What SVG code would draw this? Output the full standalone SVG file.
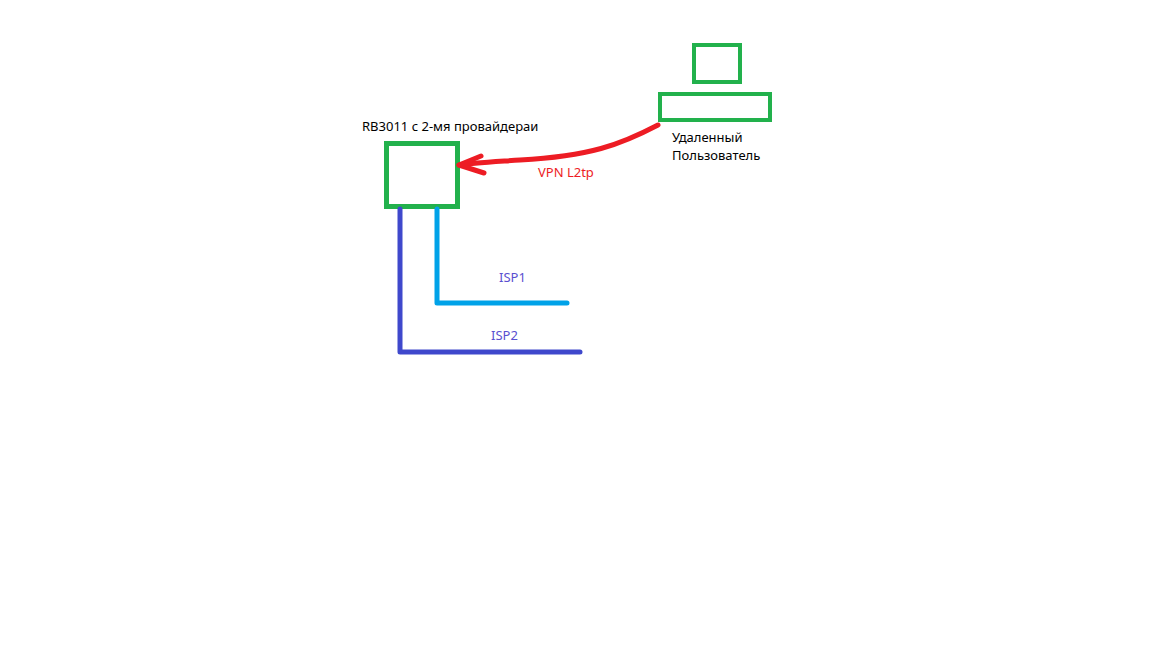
<svg xmlns="http://www.w3.org/2000/svg" width="1152" height="648" viewBox="0 0 1152 648">
<style>
.box{fill:none;stroke:#22b14c;}
.t{font-family:"Noto Sans","Open Sans","DejaVu Sans",sans-serif;font-size:13px;fill:#000;}
.red{fill:#ed1c24;}
.isp{fill:#5a4fd0;}
</style>
<rect width="1152" height="648" fill="#fff"/>
<g id="router">
<rect class="box" x="386.5" y="143.5" width="71" height="63" stroke-width="5"/>
<text class="t" x="362" y="131">RB3011 с 2-мя провайдераи</text>
</g>
<g id="user">
<rect class="box" x="694" y="45" width="46" height="37" stroke-width="4"/>
<rect class="box" x="660" y="94" width="110" height="26" stroke-width="4"/>
<text class="t" x="672" y="142">Удаленный</text>
<text class="t" x="672" y="160">Пользователь</text>
</g>
<g id="connectors" fill="none" stroke-linecap="round" stroke-linejoin="round">
<path d="M658,125 C620,145 590,156 520,160 C490,162 470,163 459,165" stroke="#ed1c24" stroke-width="5"/>
<path d="M481,156 L459,165 L484,173" stroke="#ed1c24" stroke-width="5"/>
<path d="M437,209 V303 H567" stroke="#00a2e8" stroke-width="5"/>
<path d="M400,209 V352 H580" stroke="#3f48cc" stroke-width="5"/>
</g>
<text class="t red" x="538" y="177">VPN L2tp</text>
<text class="t isp" x="499" y="282">ISP1</text>
<text class="t isp" x="491" y="340">ISP2</text>
</svg>
